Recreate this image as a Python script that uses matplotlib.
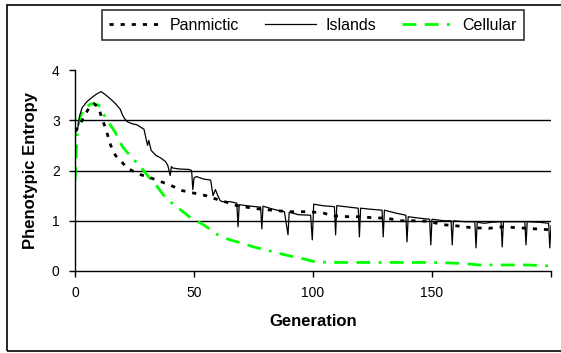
import matplotlib.pyplot as plt
from matplotlib.patches import Rectangle

# readings taken off the reference chart
islandsGen = [0, 1, 2, 3, 5, 7, 9, 11, 13, 15, 17, 19, 20, 21, 22, 24, 26, 28, 29, 30, 30.5, 31, 32, 34, 36, 38, 39,
              40, 40.5, 41, 44, 48, 49, 49.5, 50, 51, 54, 57, 58, 59, 60, 61, 62, 65, 68, 68.5, 69, 72, 78, 78.5,
              79, 84, 88, 89.5, 90, 94, 99, 99.7, 100.3, 104, 109, 109.5, 110, 119, 119.5, 120, 124, 129, 129.5,
              130, 135, 139, 139.5, 140, 145, 149, 149.5, 150, 155, 158, 158.5, 159, 164, 168, 168.5, 169, 172,
              175, 179, 179.5, 180, 185, 189, 189.5, 190, 195, 199, 199.5, 200]
islandsVal = [2.75, 2.8, 3.1, 3.25, 3.37, 3.45, 3.52, 3.57, 3.5, 3.42, 3.33, 3.22, 3.1, 3.02, 2.97, 2.93, 2.91, 2.85,
              2.82, 2.6, 2.5, 2.6, 2.4, 2.3, 2.25, 2.18, 2.1, 1.9, 2.08, 2.05, 2.03, 2.02, 2.0, 1.62, 1.85, 1.88,
              1.83, 1.81, 1.5, 1.62, 1.5, 1.4, 1.38, 1.38, 1.35, 0.88, 1.32, 1.3, 1.27, 0.84, 1.29, 1.22, 1.18,
              0.72, 1.17, 1.12, 1.11, 0.62, 1.33, 1.3, 1.28, 0.72, 1.3, 1.25, 0.68, 1.25, 1.23, 1.21, 0.68, 1.21,
              1.15, 1.11, 0.58, 1.08, 1.05, 1.03, 0.52, 1.03, 1.0, 1.0, 0.52, 1.0, 0.98, 0.98, 0.46, 0.97, 0.95,
              0.97, 0.98, 0.48, 0.98, 0.98, 0.98, 0.52, 0.98, 0.97, 0.95, 0.46, 0.9]

panmicticGen = [0, 2, 4, 6, 8, 10, 11, 12, 13, 15, 17, 18, 20, 22, 25, 28, 32, 36, 40, 45, 50, 55, 60, 65, 68, 72,
                78, 85, 90, 97, 104, 108, 115, 120, 125, 131, 137, 142, 148, 155, 160, 167, 174, 180, 186, 190,
                196, 200]
panmicticVal = [2.78, 2.9, 3.1, 3.25, 3.33, 3.25, 3.08, 2.95, 2.82, 2.5, 2.3, 2.25, 2.15, 2.05, 1.97, 1.91, 1.85,
                1.78, 1.71, 1.6, 1.55, 1.5, 1.42, 1.35, 1.3, 1.27, 1.23, 1.2, 1.18, 1.18, 1.16, 1.1, 1.08, 1.08,
                1.06, 1.05, 1.0, 1.0, 0.99, 0.92, 0.9, 0.86, 0.85, 0.88, 0.86, 0.85, 0.83, 0.82]

cellularGen = [0, 0.5, 1, 2, 4, 7, 10, 11, 14, 17, 20, 24, 28, 31, 34, 37, 40, 43, 48, 54, 60, 65, 69, 75, 80, 85,
               92, 97, 101, 110, 120, 130, 140, 150, 157, 163, 170, 180, 190, 200]
cellularVal = [1.8, 2.3, 2.8, 3.05, 3.25, 3.33, 3.3, 3.2, 2.97, 2.75, 2.47, 2.25, 2.05, 1.87, 1.72, 1.52, 1.38,
               1.27, 1.08, 0.92, 0.72, 0.62, 0.57, 0.48, 0.42, 0.36, 0.28, 0.23, 0.18, 0.17, 0.17, 0.17, 0.17,
               0.17, 0.16, 0.15, 0.12, 0.12, 0.12, 0.1]

xTicks = [0, 50, 100, 150, 200]
xTickLabels = ['0', '50', '100', '150', '']
yTicks = [0, 1, 2, 3, 4]

plt.rcParams['font.family'] = ['Liberation Sans', 'DejaVu Sans']

fig = plt.figure(figsize=(5.61, 3.53), dpi=100)
ax = fig.add_axes([75 / 561, 1 - 271 / 353, 476 / 561, 201 / 353])

# outer chart border
fig.patches.append(Rectangle((7 / 561, 2 / 353), 1.2, 346 / 353, transform=fig.transFigure,
                             fill=False, edgecolor='black', linewidth=1.2))

for y in [1, 2, 3]:
    ax.axhline(y, color='black', linewidth=1.0, zorder=1)

ax.plot(panmicticGen, panmicticVal, color='black', linewidth=2.0, linestyle=(0, (1.5, 2.5)),
        label='Panmictic', zorder=3)
ax.plot(islandsGen, islandsVal, color='black', linewidth=0.9, label='Islands', zorder=4)
ax.plot(cellularGen, cellularVal, color='#00ff00', linewidth=2.0, linestyle=(0, (5, 3, 5, 3, 1, 3)),
        label='Cellular', zorder=2)

ax.set_xlim(0, 200)
ax.set_ylim(0, 4)
ax.set_xticks(xTicks)
ax.set_xticklabels(xTickLabels)
ax.set_yticks(yTicks)
ax.tick_params(labelsize=10, length=4, width=1, direction='out', pad=7)
for s in ['top', 'right']:
    ax.spines[s].set_visible(False)
for s in ['left', 'bottom']:
    ax.spines[s].set_linewidth(1)

ax.set_xlabel('Generation', fontsize=12, fontweight='bold', labelpad=10)
ax.set_ylabel('Phenotypic Entropy', fontsize=12, fontweight='bold', labelpad=10)

leg = fig.legend(loc='center', bbox_to_anchor=(313 / 561, 1 - 25 / 353), ncol=3, frameon=True,
                 fancybox=False, edgecolor='black', fontsize=11.5, handlelength=3.2, columnspacing=1.6,
                 handletextpad=0.6, borderpad=0.45)
leg.get_frame().set_linewidth(1.2)

fig.savefig('out.png', dpi=100)
